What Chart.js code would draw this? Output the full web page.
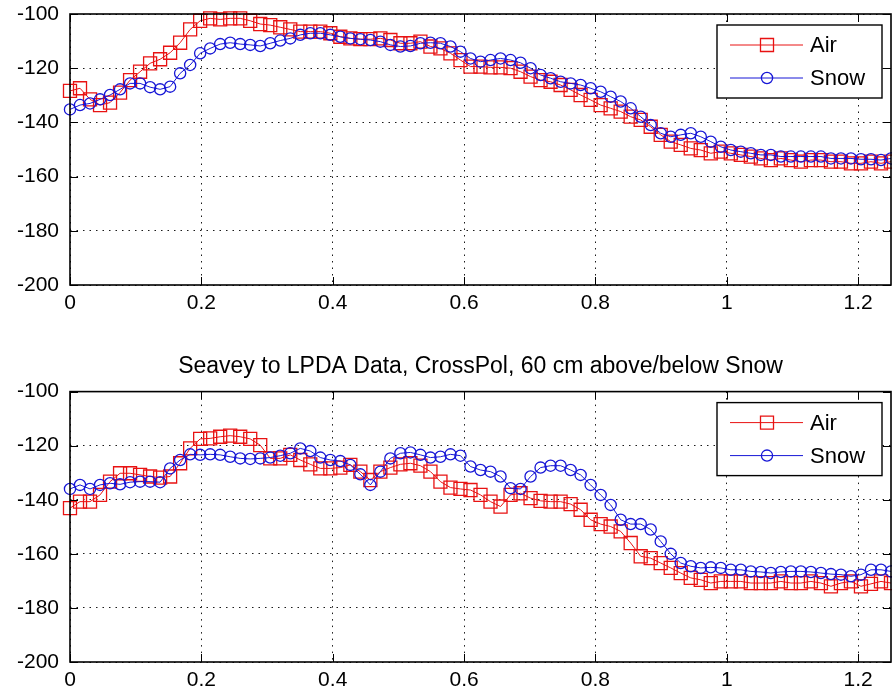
<!DOCTYPE html>
<html>
<head>
<meta charset="utf-8">
<title>Seavey to LPDA Data</title>
<script src="https://cdn.jsdelivr.net/npm/chart.js@4.4.1/dist/chart.umd.min.js"></script>
<style>
    html, body { margin: 0; padding: 0; background: #ffffff; }
    #wrap { position: relative; width: 892px; height: 695px; overflow: hidden; }
    .panel { position: absolute; left: 0; width: 892px; }
    #topPanel { top: 0; height: 330px; }
    #bottomPanel { top: 330px; height: 365px; }
</style>
</head>
<body>
<div id="wrap">
    <div class="panel" id="topPanel"><canvas id="coPolChart"></canvas></div>
    <div class="panel" id="bottomPanel"><canvas id="crossPolChart"></canvas></div>
</div>

<script>
"use strict";

/* =========================================================
   DATA
========================================================= */

const SERIES_NAMES = ["Air", "Snow"];

const X_MIN = 0;
const X_MAX = 1.25;
const X_STEP = 0.2;
const Y_MIN = -200;
const Y_MAX = -100;
const Y_STEP = 20;

// sweep spacing of the measurement (83 samples from 0 to 1.25)
const FREQ_STEP = 1.25 / 82;

const CROSS_TITLE = "Seavey to LPDA Data, CrossPol, 60 cm above/below Snow";

const TOP_AIR = [
    -128.4, -127.4, -131.5, -133.6, -132.7, -129.0, -124.4, -121.3, -118.2, -116.7,
    -114.3, -110.6, -105.7, -102.5, -101.6, -102.0, -101.6, -101.6, -102.5, -103.7,
    -104.1, -104.9, -105.7, -106.5, -106.5, -106.5, -107.1, -108.4, -109.0, -109.3,
    -109.3, -109.0, -109.6, -110.8, -110.8, -110.2, -112.0, -112.7, -114.5, -117.0,
    -119.4, -119.4, -119.7, -119.7, -120.0, -121.3, -123.1, -124.4, -125.0, -126.2,
    -128.0, -129.9, -131.7, -133.6, -134.8, -136.0, -137.9, -139.1, -141.6, -144.6,
    -147.1, -148.3, -149.6, -150.2, -151.4, -150.8, -151.4, -152.0, -152.6, -153.3,
    -153.9, -153.3, -153.9, -154.5, -153.9, -153.9, -154.5, -154.5, -155.1, -155.1,
    -154.5, -155.1, -154.5
];

const TOP_SNOW = [
    -135.2, -133.6, -133.0, -131.5, -129.9, -127.8, -125.6, -125.6, -127.0, -127.8,
    -126.8, -121.9, -118.8, -114.5, -112.7, -111.1, -110.6, -111.1, -111.4, -111.8,
    -110.8, -109.8, -109.0, -107.7, -107.1, -107.1, -107.7, -108.4, -109.0, -109.3,
    -109.6, -110.2, -111.4, -112.0, -111.8, -110.8, -110.6, -110.8, -112.0, -113.9,
    -116.4, -117.6, -117.0, -116.4, -117.0, -118.0, -120.0, -122.5, -123.7, -125.0,
    -125.6, -126.2, -127.4, -128.7, -130.5, -132.3, -134.8, -137.9, -141.0, -144.0,
    -145.3, -144.6, -144.0, -145.3, -147.1, -149.0, -150.2, -150.8, -151.4, -152.0,
    -152.0, -152.6, -152.6, -152.6, -152.6, -152.6, -153.3, -153.3, -153.3, -153.6,
    -153.6, -153.9, -153.3
];

const CROSS_AIR = [
    -143.1, -140.7, -140.7, -138.2, -133.3, -130.2, -130.2, -130.8, -131.4, -131.8,
    -131.4, -126.5, -121.0, -117.5, -117.3, -116.7, -116.3, -116.7, -117.5, -119.8,
    -124.7, -124.7, -123.4, -125.3, -126.9, -128.4, -128.4, -128.1, -127.1, -129.6,
    -132.7, -129.6, -128.1, -126.9, -126.5, -127.4, -129.6, -133.3, -135.5, -136.0,
    -136.4, -138.2, -140.7, -142.5, -138.2, -137.6, -139.4, -140.4, -140.7, -140.7,
    -141.6, -143.7, -147.4, -149.0, -149.9, -151.7, -156.0, -160.9, -161.6, -163.4,
    -165.2, -167.1, -168.9, -169.6, -170.8, -170.2, -170.2, -170.2, -170.8, -170.8,
    -170.8, -170.2, -170.8, -170.8, -170.2, -170.8, -172.0, -170.8, -170.2, -172.0,
    -171.1, -170.2, -170.8
];

const CROSS_SNOW = [
    -136.0, -134.5, -136.0, -134.5, -133.9, -134.3, -133.5, -133.3, -133.3, -133.5,
    -128.4, -125.3, -123.2, -123.4, -123.2, -123.4, -124.1, -124.7, -124.9, -124.7,
    -124.4, -123.7, -122.8, -121.0, -122.0, -124.4, -125.3, -125.7, -127.1, -130.6,
    -134.5, -129.6, -124.7, -122.8, -122.5, -123.4, -124.4, -124.1, -123.2, -123.7,
    -127.7, -129.0, -129.6, -131.4, -135.7, -136.0, -131.4, -128.1, -127.4, -127.4,
    -129.0, -130.8, -134.5, -138.2, -141.9, -147.4, -149.0, -149.0, -151.0, -155.4,
    -160.0, -163.4, -164.6, -165.2, -165.0, -165.2, -165.9, -165.9, -166.5, -166.7,
    -167.1, -166.7, -166.5, -166.5, -166.7, -167.1, -167.5, -167.7, -168.3, -167.7,
    -165.9, -165.9, -166.5
];

const FREQ = TOP_AIR.map((_, i) => i * FREQ_STEP);


/* =========================================================
   STYLE
========================================================= */

const AIR_COLOR = "rgb(232, 18, 18)";
const SNOW_COLOR = "rgb(22, 22, 214)";
const FONT_FAMILY = "'Liberation Sans', Arial, Helvetica, sans-serif";
const TICK_LEN = 8;


/* =========================================================
   AXIS FRAME + LEGEND PLUGIN
========================================================= */

const axesFrame = {

    id: "axesFrame",

    afterDraw(chart) {

        const { ctx, chartArea: a, scales } = chart;

        ctx.save();

        // inward tick marks on all four sides
        ctx.strokeStyle = "#000";
        ctx.lineWidth = 1;
        ctx.beginPath();

        scales.x.ticks.forEach((t) => {
            const px = Math.round(scales.x.getPixelForValue(t.value)) + 0.5;
            ctx.moveTo(px, a.bottom);
            ctx.lineTo(px, a.bottom - TICK_LEN);
            ctx.moveTo(px, a.top);
            ctx.lineTo(px, a.top + TICK_LEN);
        });

        scales.y.ticks.forEach((t) => {
            const py = Math.round(scales.y.getPixelForValue(t.value)) + 0.5;
            ctx.moveTo(a.left, py);
            ctx.lineTo(a.left + TICK_LEN, py);
            ctx.moveTo(a.right, py);
            ctx.lineTo(a.right - TICK_LEN, py);
        });

        ctx.stroke();

        // box
        ctx.lineWidth = 1.6;
        ctx.strokeRect(a.left, a.top, a.right - a.left, a.bottom - a.top);

        drawLegend(chart);

        ctx.restore();

    }

};

function drawLegend(chart) {

    const { ctx, chartArea: a } = chart;

    const boxW = 165;
    const boxH = 73;
    const boxX = a.right - 9 - boxW;
    const boxY = a.top + 11;

    ctx.fillStyle = "#fff";
    ctx.fillRect(boxX, boxY, boxW, boxH);
    ctx.strokeStyle = "#000";
    ctx.lineWidth = 1.4;
    ctx.strokeRect(boxX, boxY, boxW, boxH);

    // datasets are stored Air, Snow
    chart.data.datasets.forEach((ds, i) => {

        const y = boxY + 20 + i * 33;

        ctx.strokeStyle = ds.borderColor;
        ctx.lineWidth = 1;
        ctx.beginPath();
        ctx.moveTo(boxX + 13, y);
        ctx.lineTo(boxX + 86, y);
        ctx.stroke();

        ctx.fillStyle = "rgba(0,0,0,0)";
        ctx.lineWidth = ds.pointBorderWidth;
        Chart.helpers.drawPoint(ctx, {
            pointStyle: ds.pointStyle,
            radius: ds.pointRadius,
            rotation: 0,
            borderWidth: ds.pointBorderWidth
        }, boxX + 50, y);

        ctx.fillStyle = "#000";
        ctx.font = "22px " + FONT_FAMILY;
        ctx.textAlign = "left";
        ctx.textBaseline = "middle";
        ctx.fillText(ds.label, boxX + 93, y + 1);

    });

}


/* =========================================================
   CHART BUILDER
========================================================= */

function toPoints(values) {
    return values.map((v, i) => ({ x: FREQ[i], y: v }));
}

function makeDataset(label, values, color, style, radius, order) {
    return {
        label: label,
        data: toPoints(values),
        borderColor: color,
        backgroundColor: "rgba(0,0,0,0)",
        borderWidth: 1,
        pointStyle: style,
        pointRadius: radius,
        pointBorderWidth: 1.3,
        pointBackgroundColor: "rgba(0,0,0,0)",
        pointBorderColor: color,
        tension: 0,
        clip: false,
        order: order
    };
}

function createPanel(canvasId, airValues, snowValues, opts) {

    const canvas = document.getElementById(canvasId);

    if (!canvas) return;

    const tickFont = { family: FONT_FAMILY, size: 21 };

    new Chart(canvas, {

        type: "line",

        data: {
            datasets: [
                makeDataset(SERIES_NAMES[0], airValues, AIR_COLOR, "rect", 9.2, 1),
                makeDataset(SERIES_NAMES[1], snowValues, SNOW_COLOR, "circle", 5.6, 0)
            ]
        },

        options: {

            responsive: true,
            maintainAspectRatio: false,
            animation: false,

            layout: {
                autoPadding: false,
                padding: { top: opts.padTop, right: 1, left: 0, bottom: 0 }
            },

            scales: {

                x: {
                    type: "linear",
                    min: X_MIN,
                    max: X_MAX,
                    afterFit(scale) {
                        scale.height = opts.xAxisHeight;
                        scale.paddingLeft = 0;
                        scale.paddingRight = 0;
                    },
                    ticks: {
                        stepSize: X_STEP,
                        includeBounds: false,
                        padding: 6,
                        color: "#000",
                        font: tickFont,
                        maxRotation: 0,
                        callback: (v) => String(Number(v.toFixed(2)))
                    },
                    grid: {
                        color: "#1a1a1a",
                        lineWidth: 1,
                        drawTicks: false
                    },
                    border: { display: false, dash: [1.5, 5] }
                },

                y: {
                    min: Y_MIN,
                    max: Y_MAX,
                    afterFit(scale) {
                        scale.width = 70;
                        scale.paddingTop = 0;
                        scale.paddingBottom = 0;
                    },
                    ticks: {
                        stepSize: Y_STEP,
                        padding: 11,
                        color: "#000",
                        font: tickFont,
                        callback: (v) => String(v)
                    },
                    grid: {
                        color: "#1a1a1a",
                        lineWidth: 1,
                        drawTicks: false
                    },
                    border: { display: false, dash: [1.5, 5] }
                }

            },

            plugins: {
                legend: { display: false },
                tooltip: { enabled: false },
                title: {
                    display: !!opts.title,
                    text: opts.title || "",
                    fullSize: false,
                    color: "#000",
                    font: { family: FONT_FAMILY, size: 23, weight: "normal" },
                    padding: { top: 23, bottom: 11 }
                }
            }

        },

        plugins: [axesFrame]

    });

}


/* =========================================================
   INIT
========================================================= */

document.addEventListener("DOMContentLoaded", () => {

    if (typeof Chart === "undefined") {
        console.warn("Chart.js library not loaded.");
        return;
    }

    createPanel("coPolChart", TOP_AIR, TOP_SNOW, {
        padTop: 14,
        xAxisHeight: 45,
        title: null
    });

    createPanel("crossPolChart", CROSS_AIR, CROSS_SNOW, {
        padTop: 0,
        xAxisHeight: 33,
        title: CROSS_TITLE
    });

});
</script>
</body>
</html>
